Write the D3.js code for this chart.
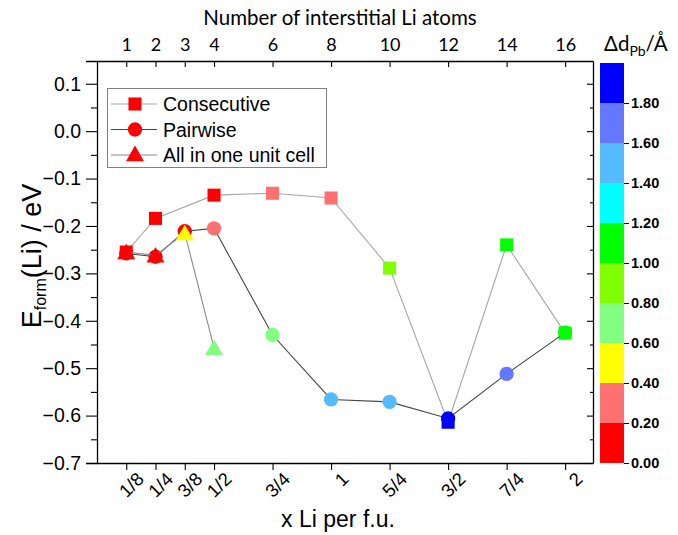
<!DOCTYPE html>
<html>
<head>
<meta charset="utf-8">
<script src="https://cdn.jsdelivr.net/npm/d3@7"></script>
<style>
  html, body { margin: 0; padding: 0; background: #fff; }
  svg { display: block; }
  text { fill: #000; }
</style>
</head>
<body>
<svg id="chart" width="678" height="535"></svg>
<script>
// Bottom axis: Li content per formula unit
const xTickValues = [0.125, 0.25, 0.375, 0.5, 0.75, 1, 1.25, 1.5, 1.75, 2];
const xTickLabels = ["1/8", "1/4", "3/8", "1/2", "3/4", "1", "5/4", "3/2", "7/4", "2"];
// Top axis: number of interstitial Li atoms (8 per f.u.)
const topTickValues = [1, 2, 3, 4, 6, 8, 10, 12, 14, 16];
const yTickValues = [0.1, 0.0, -0.1, -0.2, -0.3, -0.4, -0.5, -0.6, -0.7];

// Series: x (Li per f.u.), formation energy (eV), Pb displacement (Å)
const consecutiveX = [0.125, 0.25, 0.5, 0.75, 1, 1.25, 1.5, 1.75, 2];
const consecutiveE = [-0.255, -0.184, -0.135, -0.131, -0.141, -0.289, -0.614, -0.240, -0.426];
const consecutiveD = [0.1, 0.1, 0.1, 0.3, 0.3, 0.9, 1.9, 1.1, 1.1];

const pairwiseX = [0.125, 0.25, 0.375, 0.5, 0.75, 1, 1.25, 1.5, 1.75, 2];
const pairwiseE = [-0.258, -0.265, -0.211, -0.205, -0.430, -0.566, -0.571, -0.606, -0.512, -0.425];
const pairwiseD = [0.1, 0.1, 0.1, 0.3, 0.7, 1.5, 1.5, 1.9, 1.7, 1.1];

const oneCellX = [0.125, 0.25, 0.375, 0.5];
const oneCellE = [-0.255, -0.262, -0.215, -0.457];
const oneCellD = [0.1, 0.1, 0.5, 0.7];

// Colour map for the displacement, in 0.2 Å steps
const colorBreaks = [0.2, 0.4, 0.6, 0.8, 1.0, 1.2, 1.4, 1.6, 1.8];
const colorBins = ["#ff0000", "#ff7070", "#ffff00", "#80ff80", "#80ff00",
                   "#00ff00", "#00ffff", "#55bbff", "#6677ff", "#0000ff"];
const colorTickValues = [0.0, 0.2, 0.4, 0.6, 0.8, 1.0, 1.2, 1.4, 1.6, 1.8];

const svg = d3.select("#chart");
const plot = { left: 97, right: 593, top: 61, bottom: 463 };

const x = d3.scaleLinear().domain([0, 2.119]).range([plot.left, plot.right]);
const xTop = d3.scaleLinear().domain([0, 2.119 * 8]).range([plot.left, plot.right]);
const y = d3.scaleLinear().domain([-0.7, 0.148]).range([plot.bottom, plot.top]);
const color = d3.scaleThreshold().domain(colorBreaks).range(colorBins);
const cbar = d3.scaleLinear().domain([0, 2]).range([463, 63]);

const sansNum = "Arial, 'Liberation Sans', sans-serif";
const sansTop = "Lato, 'Open Sans', sans-serif";

// ---- axes ----
// left
const yAxis = svg.append("g").attr("transform", `translate(${plot.left},0)`)
  .call(d3.axisLeft(y).tickValues(yTickValues).tickSize(11).tickPadding(5)
    .tickFormat(d3.format(".1f")));
yAxis.selectAll("text").attr("font-family", sansNum).attr("font-size", 19.5);
svg.append("g").attr("transform", `translate(${plot.left},0)`)
  .call(d3.axisLeft(y).tickValues(d3.range(-0.65, 0.15, 0.1)).tickSize(6).tickFormat(""))
  .call(g => g.select(".domain").remove());

// right (inward ticks, no labels)
svg.append("g").attr("transform", `translate(${plot.right},0)`)
  .call(d3.axisLeft(y).tickValues(yTickValues).tickSize(6).tickFormat("").tickSizeOuter(0));
svg.append("g").attr("transform", `translate(${plot.right},0)`)
  .call(d3.axisLeft(y).tickValues(d3.range(-0.65, 0.15, 0.1)).tickSize(3).tickFormat(""))
  .call(g => g.select(".domain").remove());

// bottom
const xAxis = svg.append("g").attr("transform", `translate(0,${plot.bottom})`)
  .call(d3.axisBottom(x).tickValues(xTickValues).tickSize(7).tickSizeOuter(0).tickFormat((d, i) => xTickLabels[i]));
xAxis.selectAll("text")
  .attr("font-family", sansNum).attr("font-size", 18.5)
  .attr("text-anchor", "end")
  .attr("transform", "translate(2,1) rotate(-45)")
  .attr("dy", "0.7em");

// top (inward ticks, labels above)
const xTopAxis = svg.append("g").attr("transform", `translate(0,${plot.top})`)
  .call(d3.axisTop(xTop).tickValues(topTickValues).tickSizeInner(-6).tickSizeOuter(0).tickPadding(10));
xTopAxis.selectAll("text").attr("font-family", sansTop).attr("font-size", 18);

svg.selectAll(".domain").attr("stroke", "#000").attr("stroke-width", 1.3);
svg.selectAll(".tick line").attr("stroke", "#000").attr("stroke-width", 1.1);

// axis titles
svg.append("text").attr("x", 340).attr("y", 25).attr("text-anchor", "middle")
  .attr("font-family", sansTop).attr("font-size", 20.5)
  .text("Number of interstitial Li atoms");

svg.append("text").attr("x", 338).attr("y", 527).attr("text-anchor", "middle")
  .attr("font-family", sansNum).attr("font-size", 23)
  .text("x Li per f.u.");

const yTitle = svg.append("text")
  .attr("transform", "translate(41,256) rotate(-90)")
  .attr("text-anchor", "middle")
  .attr("font-family", sansNum).attr("font-size", 27);
yTitle.append("tspan").text("E");
yTitle.append("tspan").attr("font-size", 16).attr("dy", 5).text("form");
yTitle.append("tspan").attr("dy", -5).text("(Li) / eV");

// ---- series ----
function symbolPath(type, size) {
  return d3.symbol().type(type).size(size)();
}
const markers = {
  square: symbolPath(d3.symbolSquare, 170),
  circle: symbolPath(d3.symbolCircle, 160),
  triangle: symbolPath(d3.symbolTriangle, 140)
};

const series = [
  { name: "Consecutive", xs: consecutiveX, es: consecutiveE, ds: consecutiveD, marker: "square", line: "#a6a6a6" },
  { name: "Pairwise", xs: pairwiseX, es: pairwiseE, ds: pairwiseD, marker: "circle", line: "#444" },
  { name: "All in one unit cell", xs: oneCellX, es: oneCellE, ds: oneCellD, marker: "triangle", line: "#8a8a8a" }
];

const lineGen = d3.line().x(d => x(d.x)).y(d => y(d.e));

series.forEach(s => {
  const pts = s.xs.map((v, i) => ({ x: v, e: s.es[i], d: s.ds[i] }));
  const g = svg.append("g");
  g.append("path").datum(pts).attr("d", lineGen)
    .attr("fill", "none").attr("stroke", s.line).attr("stroke-width", 1.1);
  g.selectAll("path.mk").data(pts).join("path").attr("class", "mk")
    .attr("d", markers[s.marker])
    .attr("transform", d => `translate(${x(d.x)},${y(d.e) + (s.marker === "triangle" ? 2 : 0)})`)
    .attr("fill", d => color(d.d));
});

// ---- legend ----
const legend = svg.append("g");
legend.append("rect").attr("x", 107.5).attr("y", 88.5).attr("width", 219).attr("height", 79)
  .attr("fill", "#fff").attr("stroke", "#808080").attr("stroke-width", 1);
series.forEach((s, i) => {
  const cy = 104 + i * 25.5;
  legend.append("line").attr("x1", 111).attr("x2", 157).attr("y1", cy).attr("y2", cy)
    .attr("stroke", s.line).attr("stroke-width", 1.1);
  legend.append("path").attr("d", markers[s.marker])
    .attr("transform", `translate(135,${cy + (s.marker === "triangle" ? 1 : 0)})`)
    .attr("fill", "#ff0000");
  legend.append("text").attr("x", 163).attr("y", cy + 7)
    .attr("font-family", sansNum).attr("font-size", 19.5)
    .text(s.name);
});

// ---- colour bar ----
const cb = svg.append("g");
const cbX = 600, cbW = 24;
colorBins.forEach((c, i) => {
  const lo = i * 0.2, hi = (i + 1) * 0.2;
  cb.append("rect").attr("x", cbX).attr("width", cbW)
    .attr("y", cbar(hi)).attr("height", cbar(lo) - cbar(hi))
    .attr("fill", c);
});
const cbAxis = cb.append("g").attr("transform", `translate(${cbX + cbW},0)`)
  .call(d3.axisRight(cbar).tickValues(colorTickValues).tickSize(5).tickPadding(2)
    .tickFormat(d3.format(".2f")));
cbAxis.select(".domain").remove();
cbAxis.selectAll("text").attr("font-family", sansNum).attr("font-size", 14.5).attr("font-weight", "bold");
cbAxis.selectAll(".tick line").attr("stroke", "#000");

const cbTitle = svg.append("text").attr("x", 604).attr("y", 51)
  .attr("font-family", sansTop).attr("font-size", 20.5);
cbTitle.append("tspan").text("Δd");
cbTitle.append("tspan").attr("font-size", 14).attr("dy", 5).text("Pb");
cbTitle.append("tspan").attr("dy", -5).text("/Å");
</script>
</body>
</html>
